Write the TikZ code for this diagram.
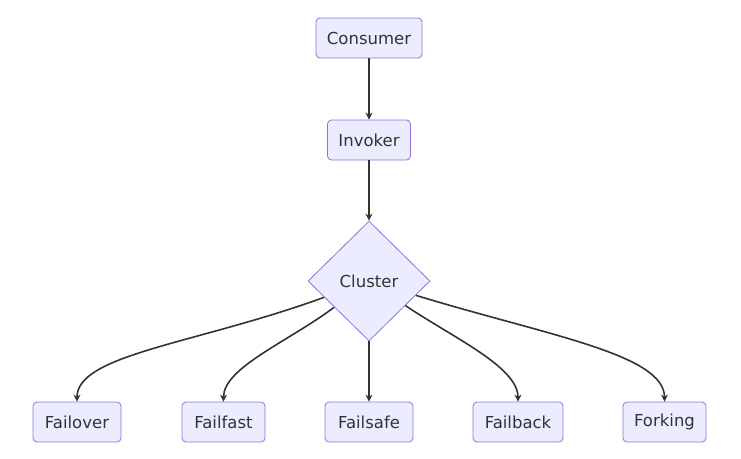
\documentclass[tikz,border=0pt]{standalone}
\usepackage{fontspec}
\setmainfont{DejaVu Sans}
\usepackage{xcolor}
\usepackage{tikz}
\usetikzlibrary{arrows.meta, positioning, shapes.geometric}

\definecolor{nodefill}{HTML}{ECECFF}
\definecolor{nodeline}{HTML}{9370DB}
\definecolor{edgeline}{HTML}{333333}

\begin{document}
\begin{tikzpicture}[
  x=1pt, y=1pt,
  nbox/.style={
    rectangle, rounded corners=4pt, draw=nodeline, fill=nodefill,
    minimum height=40pt, inner xsep=8pt, text=edgeline,
    font=\fontsize{16.5}{19}\selectfont, line width=0.8pt
  },
  ndiam/.style={
    diamond, draw=nodeline, fill=nodefill, aspect=1,
    minimum width=122pt, minimum height=120pt, inner sep=0pt, text=edgeline,
    font=\fontsize{16.5}{19}\selectfont, line width=0.8pt
  },
  arr/.style={-{Stealth[length=7pt, width=7pt]}, draw=edgeline, line width=1.6pt}
]
\useasboundingbox (0,0) rectangle (741,-458);

% === Chain ===
\node[nbox, minimum width=106pt] (consumer) at (369,-38) {Consumer};
\node[nbox, minimum width=83pt] (invoker) at (369,-140) {Invoker};
\node[ndiam] (cluster) at (369,-281) {Cluster};

% === Strategies ===
\node[nbox, minimum width=88pt] (failover) at (77,-422) {Failover};
\node[nbox, minimum width=83pt] (failfast) at (223.5,-422) {Failfast};
\node[nbox, minimum width=88pt] (failsafe) at (369,-422) {Failsafe};
\node[nbox, minimum width=90pt] (failback) at (518,-422) {Failback};
\node[nbox, minimum width=83pt] (forking) at (664.5,-422) {Forking};

% === ARROWS ===
\draw[arr] (consumer) -- (invoker);
\draw[arr] (invoker) -- (cluster);
\draw[arr] (cluster) to[out=200, in=90, out looseness=1.3, in looseness=0.45] (failover);
\draw[arr] (cluster) to[out=217, in=90, out looseness=1.0, in looseness=0.6] (failfast);
\draw[arr] (cluster) -- (failsafe);
\draw[arr] (cluster) to[out=326, in=90, out looseness=1.0, in looseness=0.6] (failback);
\draw[arr] (cluster) to[out=343, in=90, out looseness=1.3, in looseness=0.45] (forking);

\end{tikzpicture}
\end{document}
